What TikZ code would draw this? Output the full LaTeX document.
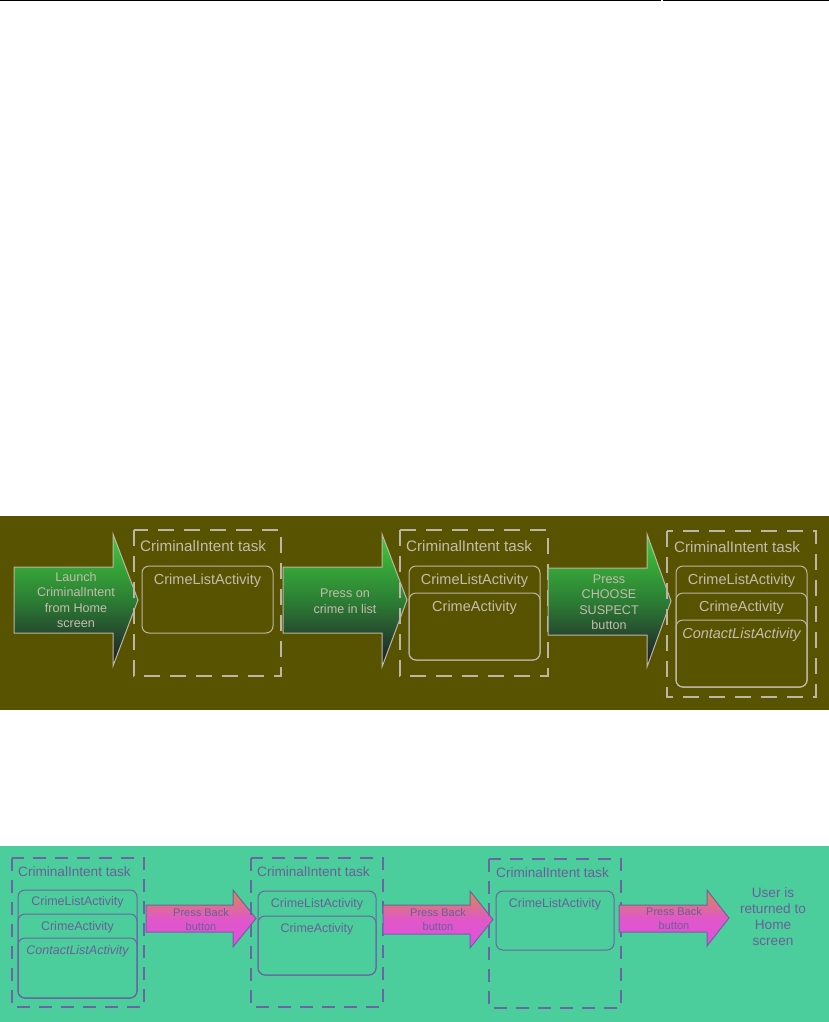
\documentclass[tikz,border=0pt]{standalone}
\usepackage{fontspec}
\setmainfont{Liberation Sans}
\usetikzlibrary{positioning}
\definecolor{oliveBg}{HTML}{585300}
\definecolor{tealBg}{HTML}{4BCE9C}
\definecolor{paleLine}{HTML}{BDB5A6}
\definecolor{paleText}{HTML}{C4BCAE}
\definecolor{violetLine}{HTML}{6C64A4}
\definecolor{violetText}{HTML}{6A5F9A}
\definecolor{grnTop}{HTML}{40CC3C}
\definecolor{grnMid}{HTML}{2C7E34}
\definecolor{grnBot}{HTML}{1E1828}
\definecolor{pnkTop}{HTML}{D88C4C}
\definecolor{pnkMid}{HTML}{E058C8}
\definecolor{pnkBot}{HTML}{E04EE0}

\begin{document}
\begin{tikzpicture}[
    x=1pt,y=-1pt,
    every node/.style={inner sep=0pt,align=center},
    taskbox/.style={line width=2pt,dash pattern=on 16pt off 10pt},
    actbox/.style={line width=1pt,rounded corners=7pt},
    grnarrow/.style={draw=paleLine,line width=1pt,
                     top color=grnTop,bottom color=grnBot,middle color=grnMid},
    pnkarrow/.style={draw=violetLine,line width=1pt,
                     top color=pnkTop,bottom color=pnkBot,middle color=pnkMid},
    toplab/.style={text=paleText,font=\fontsize{14.5}{17}\selectfont},
    toptask/.style={text=paleText,font=\fontsize{15.2}{18}\selectfont},
    toparr/.style={text=paleText,font=\fontsize{12.6}{15.5}\selectfont},
    botlab/.style={text=violetText,font=\fontsize{12.5}{15}\selectfont},
    botarr/.style={text=violetText,font=\fontsize{11}{14}\selectfont}
  ]
  \useasboundingbox (0,0) rectangle (829,1022);
  \draw[line width=1.5pt] (0,0.75) -- (661,0.75);
  \draw[line width=1.5pt] (663,0.75) -- (829,0.75);

  % forward: starting the activities
  \fill[oliveBg] (0,516) rectangle (829,710);
  \begin{scope}[draw=paleLine]
    \draw[grnarrow] (14,567) -- (113,567) -- (113,534) -- (138,600)
      -- (113,666) -- (113,633) -- (14,633) -- cycle;
    \node[toparr] (launch) at (76,600) {Launch\\CriminalIntent\\from Home\\screen};

    \draw[paleLine,taskbox] (134,530) rectangle (281,676);
    \node[toptask,anchor=west] (taskA) at (140,546) {CriminalIntent task};
    \draw[paleLine,actbox] (142,566) rectangle (273,633);
    \node[toplab] (listA) at (207.5,581) {CrimeListActivity};

    \draw[grnarrow] (283,567) -- (382,567) -- (382,534) -- (407,600)
      -- (382,667) -- (382,633) -- (283,633) -- cycle;
    \node[toparr] (pressOn) at (345,601) {Press on\\crime in list};

    \draw[paleLine,taskbox] (400,530) rectangle (548,676);
    \node[toptask,anchor=west] (taskB) at (406,546) {CriminalIntent task};
    \draw[paleLine,actbox] (409,566) rectangle (540,660);
    \draw[paleLine,actbox] (409,593) rectangle (540,660);
    \node[toplab] (listB) at (474.5,581) {CrimeListActivity};
    \node[toplab] (crimeB) at (474.5,608) {CrimeActivity};

    \draw[grnarrow] (548,568) -- (647,568) -- (647,534) -- (671,601)
      -- (647,667) -- (647,635) -- (548,635) -- cycle;
    \node[toparr] (pressChoose) at (609,602) {Press\\CHOOSE\\SUSPECT\\button};

    \draw[paleLine,taskbox] (667,531) rectangle (816,697);
    \node[toptask,anchor=west] (taskC) at (674,547) {CriminalIntent task};
    \draw[paleLine,actbox] (676,566) rectangle (807,687);
    \draw[paleLine,actbox] (676,593) rectangle (807,687);
    \draw[paleLine,actbox] (676,620) rectangle (807,687);
    \node[toplab] (listC) at (741.5,581) {CrimeListActivity};
    \node[toplab] (crimeC) at (741.5,608) {CrimeActivity};
    \node[toplab,font=\fontsize{14.5}{17}\selectfont\itshape] (contactC) at (741.5,635) {ContactListActivity};
  \end{scope}

  % backward: pressing Back
  \fill[tealBg] (0,846) rectangle (829,1022);
  \draw[violetLine,taskbox,line width=1.8pt,dash pattern=on 13pt off 9pt] (12,858) rectangle (144,1007);
  \node[botlab,anchor=west,font=\fontsize{13.6}{16}\selectfont] (taskD) at (18,872) {CriminalIntent task};
  \draw[violetLine,actbox] (18,890) rectangle (137,998);
  \draw[violetLine,actbox] (18,914) rectangle (137,998);
  \draw[violetLine,actbox] (18,938) rectangle (137,998);
  \node[botlab] (listD) at (77.5,902) {CrimeListActivity};
  \node[botlab] (crimeD) at (77.5,927) {CrimeActivity};
  \node[botlab,font=\fontsize{12.5}{15}\selectfont\itshape] (contactD) at (77.5,951) {ContactListActivity};

  \draw[pnkarrow] (146,905) -- (233,905) -- (233,890) -- (256,918.5)
    -- (233,947) -- (233,932) -- (146,932) -- cycle;
  \node[botarr] (backA) at (201,920) {Press Back\\button};

  \draw[violetLine,taskbox,line width=1.8pt,dash pattern=on 13pt off 9pt] (251,858) rectangle (383,1007);
  \node[botlab,anchor=west,font=\fontsize{13.6}{16}\selectfont] (taskE) at (257,872) {CriminalIntent task};
  \draw[violetLine,actbox] (258,891) rectangle (376,975);
  \draw[violetLine,actbox] (258,916) rectangle (376,975);
  \node[botlab] (listE) at (317,904) {CrimeListActivity};
  \node[botlab] (crimeE) at (317,929) {CrimeActivity};

  \draw[pnkarrow] (383,905) -- (470,905) -- (470,891) -- (493,919.5)
    -- (470,948) -- (470,934) -- (383,934) -- cycle;
  \node[botarr] (backB) at (438,920) {Press Back\\button};

  \draw[violetLine,taskbox,line width=1.8pt,dash pattern=on 13pt off 9pt] (489,859) rectangle (621,1008);
  \node[botlab,anchor=west,font=\fontsize{13.6}{16}\selectfont] (taskF) at (496,873) {CriminalIntent task};
  \draw[violetLine,actbox] (496,891) rectangle (614,950);
  \node[botlab] (listF) at (555,904) {CrimeListActivity};

  \draw[pnkarrow] (619,905) -- (707,905) -- (707,890) -- (729,918)
    -- (707,946) -- (707,932) -- (619,932) -- cycle;
  \node[botarr] (backC) at (674,919) {Press Back\\button};

  \node[text=violetText,font=\fontsize{13.6}{16}\selectfont] (home) at (773,917)
    {User is\\returned to\\Home\\screen};
\end{tikzpicture}
\end{document}
